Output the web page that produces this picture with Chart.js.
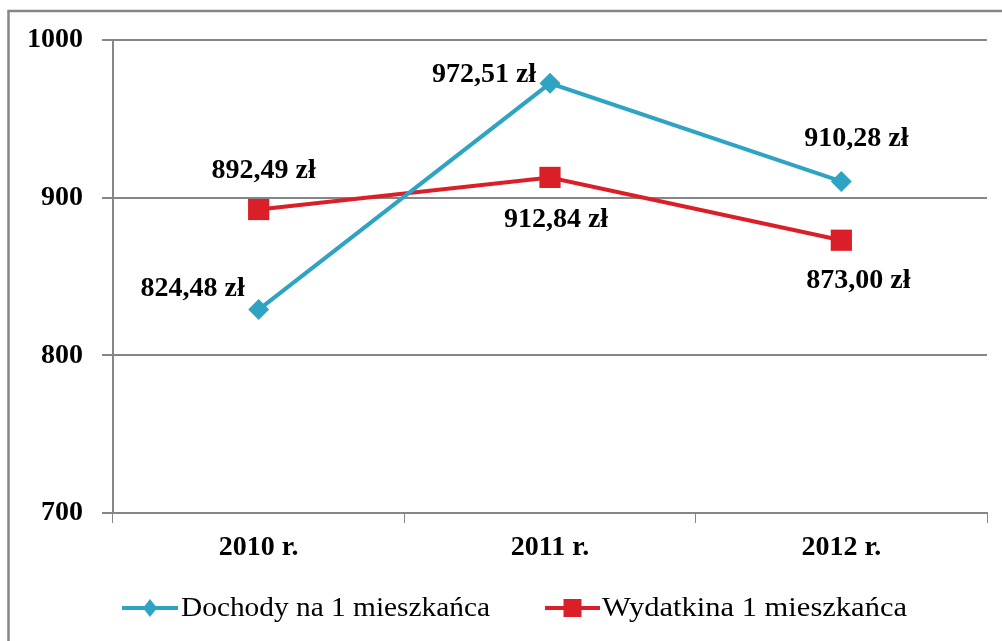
<!DOCTYPE html>
<html>
<head>
<meta charset="utf-8">
<script src="https://cdn.jsdelivr.net/npm/chart.js@4.4.1/dist/chart.umd.min.js"></script>
<style>
  html, body { margin: 0; padding: 0; background: #ffffff; }
  #wrap { width: 1002px; height: 641px; position: relative; }
</style>
</head>
<body>
<div id="wrap"><canvas id="c" width="1002" height="641"></canvas></div>
<script>
// ---- data ----
const categories = ['2010 r.', '2011 r.', '2012 r.'];
const seriesNames = ['Dochody na 1 mieszkańca', 'Wydatkina 1 mieszkańca'];
const dochody = [829, 972.51, 910.28];          // plotted positions
const wydatki = [892.49, 912.84, 873.00];
const dochodyLabels = ['824,48 zł', '972,51 zł', '910,28 zł'];
const wydatkiLabels = ['892,49 zł', '912,84 zł', '873,00 zł'];
const yTicks = [700, 800, 900, 1000];

// ---- styles ----
const BLUE = '#2ea3c3';
const RED = '#da1f28';
const GRID = '#868686';
const FONT = '"Liberation Serif", "Times New Roman", serif';

// label offsets relative to each point (pixels)
const labelOffsets = [
  [[-66, -23], [-66, -11], [15, -45]],
  [[5, -41], [6, 40], [17, 38]]
];
const labelTexts = [dochodyLabels, wydatkiLabels];

const extras = {
  id: 'extras',
  afterDraw(chart) {
    const ctx = chart.ctx;
    ctx.save();
    // frame
    ctx.strokeStyle = GRID;
    ctx.lineWidth = 2.5;
    ctx.beginPath();
    ctx.moveTo(8.5, 641);
    ctx.lineTo(8.5, 11);
    ctx.lineTo(1002, 11);
    ctx.stroke();

    // data labels
    ctx.fillStyle = '#000';
    ctx.font = 'bold 28px ' + FONT;
    ctx.textAlign = 'center';
    ctx.textBaseline = 'alphabetic';
    chart.data.datasets.forEach((ds, di) => {
      const meta = chart.getDatasetMeta(di);
      meta.data.forEach((pt, i) => {
        const off = labelOffsets[di][i];
        ctx.fillText(labelTexts[di][i], pt.x + off[0], pt.y + off[1] + 9.5);
      });
    });

    // legend
    const items = [
      { x0: 122, x1: 178, color: BLUE, style: 'diamond', tx: 181, w: 309 },
      { x0: 545, x1: 600, color: RED, style: 'square', tx: 602, w: 305 }
    ];
    const ly = 608;
    ctx.font = '28px ' + FONT;
    ctx.textAlign = 'left';
    items.forEach((it, k) => {
      ctx.strokeStyle = it.color;
      ctx.lineWidth = 4;
      ctx.beginPath();
      ctx.moveTo(it.x0, ly);
      ctx.lineTo(it.x1, ly);
      ctx.stroke();
      ctx.fillStyle = it.color;
      const cx = (it.x0 + it.x1) / 2;
      if (it.style === 'diamond') {
        ctx.beginPath();
        ctx.moveTo(cx, ly - 9);
        ctx.lineTo(cx + 7, ly);
        ctx.lineTo(cx, ly + 9);
        ctx.lineTo(cx - 7, ly);
        ctx.closePath();
        ctx.fill();
      } else {
        ctx.fillRect(cx - 9, ly - 9, 18, 18);
      }
      ctx.fillStyle = '#000';
      const natural = ctx.measureText(seriesNames[k]).width;
      const sx = it.w / natural;
      ctx.save();
      ctx.translate(it.tx, ly + 8);
      ctx.scale(sx, 1);
      ctx.fillText(seriesNames[k], 0, 0);
      ctx.restore();
    });
    ctx.restore();
  }
};

new Chart(document.getElementById('c'), {
  type: 'line',
  data: {
    labels: categories,
    datasets: [
      {
        label: seriesNames[0],
        data: dochody,
        borderColor: BLUE,
        backgroundColor: BLUE,
        borderWidth: 4,
        pointStyle: 'rectRot',
        pointRadius: 10.5,
        pointBorderWidth: 0,
        tension: 0
      },
      {
        label: seriesNames[1],
        data: wydatki,
        borderColor: RED,
        backgroundColor: RED,
        borderWidth: 4,
        pointStyle: 'rect',
        pointRadius: 15,
        pointBorderWidth: 0,
        tension: 0
      }
    ]
  },
  options: {
    responsive: false,
    animation: false,
    layout: { padding: { left: 0, top: 40, right: 15, bottom: 0 } },
    plugins: {
      legend: { display: false },
      tooltip: { enabled: false },
      title: { display: false }
    },
    scales: {
      x: {
        offset: true,
        grid: {
          offset: true,
          drawOnChartArea: false,
          drawTicks: true,
          tickLength: 10,
          color: GRID,
          lineWidth: 1
        },
        border: { display: true, color: GRID, width: 2 },
        ticks: {
          color: '#000',
          font: { family: FONT, size: 28, weight: 'bold' },
          padding: 8,
          maxRotation: 0
        },
        afterFit(scale) { scale.height = 128; }
      },
      y: {
        min: 700,
        max: 1000,
        afterBuildTicks(scale) { scale.ticks = yTicks.map(v => ({ value: v })); },
        grid: {
          color: GRID,
          lineWidth: 2,
          drawTicks: true,
          tickLength: 11
        },
        border: { display: true, color: GRID, width: 2 },
        ticks: {
          color: '#000',
          font: { family: FONT, size: 28, weight: 'bold' },
          padding: 19,
          callback: (v) => String(v)
        },
        afterFit(scale) { scale.width = 113; }
      }
    }
  },
  plugins: [extras]
});
</script>
</body>
</html>
